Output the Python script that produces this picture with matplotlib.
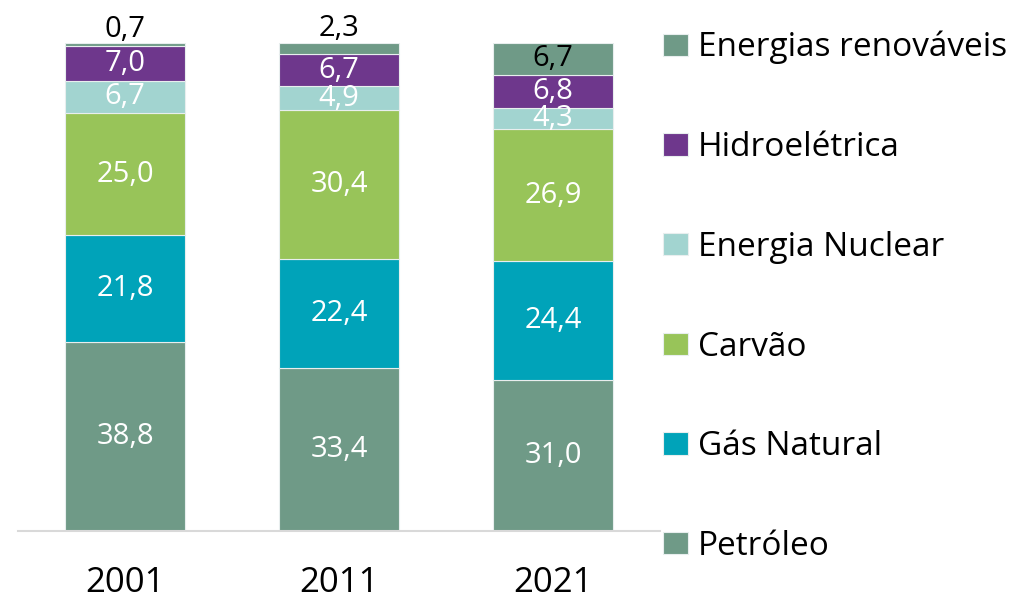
import matplotlib.pyplot as plt
import numpy as np

years = ['2001', '2011', '2021']
petroleo = [38.8, 33.4, 31.0]
gas = [21.8, 22.4, 24.4]
carvao = [25.0, 30.4, 26.9]
nuclear = [6.7, 4.9, 4.3]
hidro = [7.0, 6.7, 6.8]
renovaveis = [0.7, 2.3, 6.7]

series = [
    ('Petróleo', petroleo, '#6f9a87'),
    ('Gás Natural', gas, '#00a3b9'),
    ('Carvão', carvao, '#98c459'),
    ('Energia Nuclear', nuclear, '#a2d4d0'),
    ('Hidroelétrica', hidro, '#6e378c'),
    ('Energias renováveis', renovaveis, '#6f9a87'),
]

plt.rcParams['font.family'] = ['Open Sans', 'DejaVu Sans']

fig = plt.figure(figsize=(10.28, 6.02), dpi=100)
ax = fig.add_axes([18 / 1028, (602 - 531) / 602, 642 / 1028, 488 / 602])

x = np.arange(len(years))
bottom = np.zeros(len(years))
handles = []
for name, vals, color in series:
    vals = np.array(vals)
    bars = ax.bar(x, vals, 0.56, bottom=bottom, color=color, edgecolor='#e8eeee',
                  linewidth=0.8, label=name)
    handles.append(bars)
    for xi, v, b in zip(x, vals, bottom):
        lbl = f'{v:.1f}'.replace('.', ',')
        if v < 3:
            # small slices get their label above the bar
            ax.text(xi, b + v + 2.8, lbl, ha='center', va='center', fontsize=21, color='black')
        else:
            txtcol = 'black' if name == 'Energias renováveis' else 'white'
            ax.text(xi, b + v / 2, lbl, ha='center', va='center', fontsize=21, color=txtcol)
    bottom = bottom + vals

ax.set_xlim(-0.5, 2.5)
ax.set_ylim(0, 100)
ax.set_yticks([])
ax.set_xticks(x)
ax.set_xticklabels(years, fontsize=25)
ax.tick_params(axis='x', length=0, pad=25)
for s in ['top', 'right', 'left']:
    ax.spines[s].set_visible(False)
ax.spines['bottom'].set_color('#d9d9d9')
ax.spines['bottom'].set_linewidth(1.5)

leg = fig.legend(handles[::-1], [s[0] for s in series][::-1], loc='upper left',
                 bbox_to_anchor=(663 / 1028, 1 - 31 / 602), frameon=False, fontsize=24,
                 handlelength=0.75, handleheight=0.65, handletextpad=0.3, labelspacing=2.0,
                 borderaxespad=0, borderpad=0)

fig.savefig('out.png', dpi=100)
